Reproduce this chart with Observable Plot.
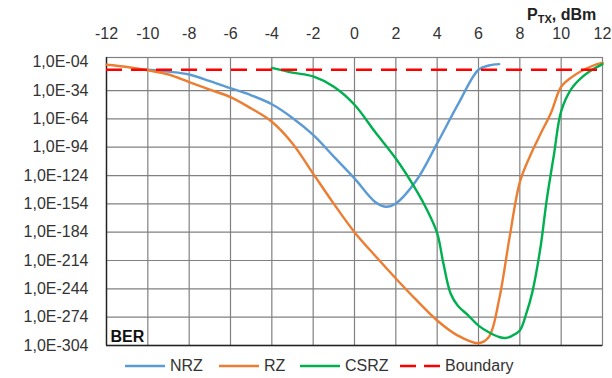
<!DOCTYPE html>
<html>
<head>
<meta charset="utf-8">
<script src="https://cdn.jsdelivr.net/npm/d3@7"></script>
<script src="https://cdn.jsdelivr.net/npm/@observablehq/plot@0.6"></script>
<style>
  html, body { margin: 0; padding: 0; background: #fff; }
  #wrap { position: relative; width: 612px; height: 378px; font-family: "Liberation Sans", Arial, sans-serif; color: #333; overflow: hidden; }
  #chart { position: absolute; left: 0; top: 0; }
  #title { position: absolute; left: 527px; top: 6px; font-weight: bold; font-size: 16px; color: #222; white-space: nowrap; }
  #title sub { font-size: 11px; vertical-align: -3px; }
  .leg { position: absolute; top: 356px; height: 20px; display: flex; align-items: center; font-size: 16px; color: #333; white-space: nowrap; }
  .leg svg { margin-right: 5px; }
</style>
</head>
<body>
<div id="wrap">
  <div id="chart"></div>
  <div id="title">P<sub>TX</sub>, dBm</div>
  <div id="legend"></div>
</div>
<script>
// x: transmitter power, dBm ; values: log10(BER)
const xTicks = [-12, -10, -8, -6, -4, -2, 0, 2, 4, 6, 8, 10, 12];
const yTicks = [-304, -274, -244, -214, -184, -154, -124, -94, -64, -34, -4];

const nrzX   = [-10, -9, -8, -7, -6, -5, -4, -3, -2, -1, 0, 1, 1.5, 2, 3, 4, 5, 6, 6.5, 7];
const nrzLog = [-12, -14, -17, -24, -31.5, -39, -48.5, -63, -81, -104, -127, -152, -157, -153.5, -129, -90, -49, -12, -7.5, -6];

const rzX   = [-12, -11, -10, -9, -8, -7, -6, -5, -4, -3, -2, -1, 0, 1, 2, 3, 4, 5, 6, 6.5, 7, 7.5, 8, 8.5, 9, 9.5, 10, 10.5, 11, 11.5, 12];
const rzLog = [-6.7, -9, -12.5, -17, -25, -33, -41, -53, -67, -90, -122, -154, -184, -209, -233, -256, -277.5, -293.5, -301.5, -295, -255, -190, -131, -103, -80, -58, -30, -20, -13, -8, -4.5];

const csrzX   = [-4, -3, -2, -1, 0, 1, 2, 3, 3.5, 4, 4.3, 4.65, 5, 5.5, 6, 6.5, 7, 7.3, 7.6, 8, 8.3, 8.6, 9, 9.3, 9.65, 10, 10.5, 11, 11.5, 12];
const csrzLog = [-10, -15, -19, -30, -49, -78, -106, -140, -160, -185, -217, -249, -262, -272, -283, -290, -295, -296, -294, -288, -271, -248, -200, -150, -102, -56, -32, -20, -12, -6];

const boundaryLog = [-12];

const seriesNames  = ["NRZ", "RZ", "CSRZ", "Boundary"];
const seriesColors = ["#5B9BD5", "#ED7D31", "#00B050", "#FF0000"];

const toRows = (xs, ys) => xs.map((x, i) => ({x, y: ys[i]}));
const fmtY = d => "1,0E-" + String(-d).padStart(2, "0");

const lineOpts = (c) => ({x: "x", y: "y", stroke: c, strokeWidth: 2.4, curve: "catmull-rom"});

const chart = Plot.plot({
  width: 612,
  height: 358,
  marginTop: 57,
  marginBottom: 13,
  marginLeft: 106,
  marginRight: 10,
  style: {fontFamily: "Liberation Sans, Arial, sans-serif", fontSize: "16px", color: "#333", background: "#fff"},
  x: {domain: [-12, 12]},
  y: {domain: [-304, 1]},
  marks: [
    Plot.ruleX(xTicks.slice(1, -1), {stroke: "#808080", strokeWidth: 1.2, strokeOpacity: 1}),
    Plot.ruleY(yTicks.slice(1, -1), {stroke: "#808080", strokeWidth: 1.2, strokeOpacity: 1}),
    Plot.frame({stroke: "#808080", strokeWidth: 1.2}),
    Plot.ruleX([xTicks[0]], {stroke: "#222", strokeWidth: 1.4}),
    Plot.ruleY([yTicks[0]], {stroke: "#222", strokeWidth: 1.6}),
    Plot.axisX({anchor: "top", ticks: xTicks, tickSize: 0, tickPadding: 19, tickFormat: d => String(d), label: null, fill: "#333"}),
    Plot.axisY({anchor: "left", ticks: yTicks, tickSize: 0, tickPadding: 18, tickFormat: fmtY, label: null, fill: "#333"}),
    Plot.line(toRows(nrzX, nrzLog), lineOpts(seriesColors[0])),
    Plot.line(toRows(rzX, rzLog), lineOpts(seriesColors[1])),
    Plot.line(toRows(csrzX, csrzLog), lineOpts(seriesColors[2])),
    Plot.ruleY(boundaryLog, {stroke: seriesColors[3], strokeWidth: 2.6, strokeDasharray: "16,9"}),
    Plot.text(["BER"], {frameAnchor: "bottom-left", text: d => d, dx: 4, dy: -4, fontWeight: "bold", fontSize: 16, fill: "#111", textAnchor: "start", lineAnchor: "bottom"})
  ]
});
document.getElementById("chart").appendChild(chart);

// legend
const legendLeft = [125, 219, 300, 400];
const legend = document.getElementById("legend");
seriesNames.forEach((name, i) => {
  const item = document.createElement("div");
  item.className = "leg";
  item.style.left = legendLeft[i] + "px";
  const dash = i === 3 ? 'stroke-dasharray="16,8"' : "";
  item.innerHTML = `<svg width="40" height="6"><line x1="0" x2="40" y1="3" y2="3" stroke="${seriesColors[i]}" stroke-width="${i === 3 ? 2.6 : 2.4}" ${dash}/></svg><span>${name}</span>`;
  legend.appendChild(item);
});
</script>
</body>
</html>
